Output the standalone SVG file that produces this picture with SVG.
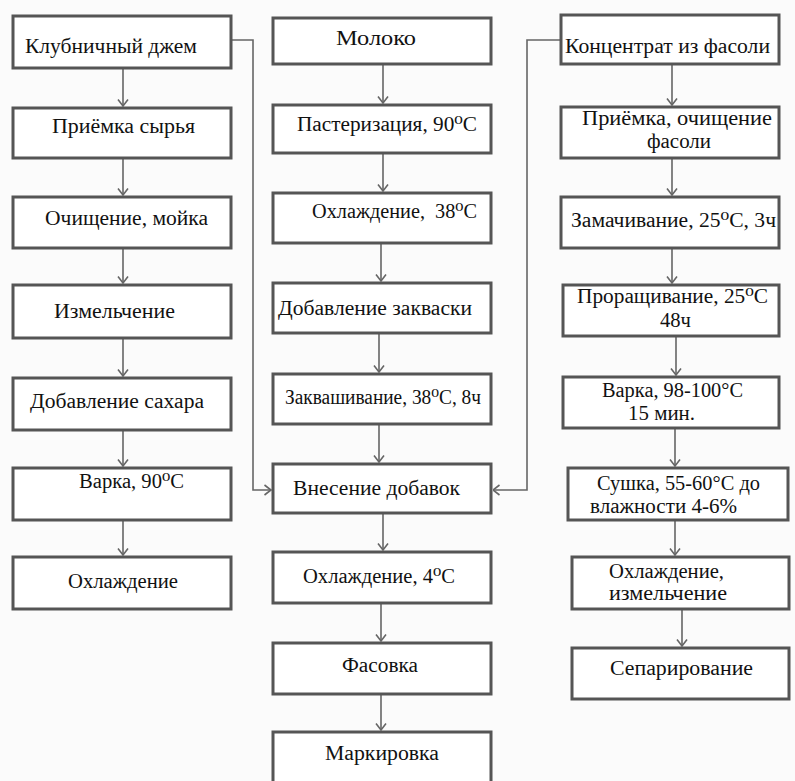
<svg xmlns="http://www.w3.org/2000/svg" width="795" height="781" viewBox="0 0 795 781">
<style>
.box{fill:#fff;stroke:#555;stroke-width:3}
.t{font-family:"Liberation Serif","Times New Roman","DejaVu Serif",serif;font-size:20px;fill:#111}
.c{fill:none;stroke:#666;stroke-width:1.6}
</style>
<defs>
<marker id="a" viewBox="0 0 8 12" refX="7.5" refY="6" markerWidth="8" markerHeight="12" markerUnits="userSpaceOnUse" orient="auto">
<path d="M1,1 L7.5,6 L1,11" fill="none" stroke="#666" stroke-width="1.6"/>
</marker>
</defs>
<rect width="795" height="781" fill="#fbfbfb"/>

<g id="connectors">
<path class="c" marker-end="url(#a)" d="M123,68 V106"/>
<path class="c" marker-end="url(#a)" d="M123,158 V195"/>
<path class="c" marker-end="url(#a)" d="M123,248 V283"/>
<path class="c" marker-end="url(#a)" d="M123,338 V376"/>
<path class="c" marker-end="url(#a)" d="M123,430 V466"/>
<path class="c" marker-end="url(#a)" d="M123,520 V555"/>
<path class="c" marker-end="url(#a)" d="M383,64 V103"/>
<path class="c" marker-end="url(#a)" d="M383,153 V191"/>
<path class="c" marker-end="url(#a)" d="M381,243 V281"/>
<path class="c" marker-end="url(#a)" d="M379,333 V372"/>
<path class="c" marker-end="url(#a)" d="M379,424 V462"/>
<path class="c" marker-end="url(#a)" d="M383,513 V550"/>
<path class="c" marker-end="url(#a)" d="M381,603 V641"/>
<path class="c" marker-end="url(#a)" d="M381,694 V730"/>
<path class="c" marker-end="url(#a)" d="M672,64 V105"/>
<path class="c" marker-end="url(#a)" d="M672,158 V195"/>
<path class="c" marker-end="url(#a)" d="M672,248 V283"/>
<path class="c" marker-end="url(#a)" d="M676,336 V375"/>
<path class="c" marker-end="url(#a)" d="M675,428 V466"/>
<path class="c" marker-end="url(#a)" d="M675,520 V555"/>
<path class="c" marker-end="url(#a)" d="M682,609 V646"/>
<path class="c" marker-end="url(#a)" d="M231,40 H253 V490 H271"/>
<path class="c" marker-end="url(#a)" d="M561,40 H527 V490 H493"/>
</g>

<g id="L1"><rect class="box" x="13" y="16" width="218" height="52"/><text class="t" x="25" y="53" textLength="172" lengthAdjust="spacingAndGlyphs">Клубничный джем</text></g>
<g id="L2"><rect class="box" x="13" y="108" width="218" height="50"/><text class="t" x="52" y="133" textLength="143" lengthAdjust="spacingAndGlyphs">Приёмка сырья</text></g>
<g id="L3"><rect class="box" x="13" y="197" width="218" height="51"/><text class="t" x="45" y="225" textLength="163" lengthAdjust="spacingAndGlyphs">Очищение, мойка</text></g>
<g id="L4"><rect class="box" x="13" y="285" width="218" height="53"/><text class="t" x="54" y="318" textLength="121" lengthAdjust="spacingAndGlyphs">Измельчение</text></g>
<g id="L5"><rect class="box" x="13" y="378" width="218" height="52"/><text class="t" x="30" y="408" textLength="174" lengthAdjust="spacingAndGlyphs">Добавление сахара</text></g>
<g id="L6"><rect class="box" x="13" y="468" width="218" height="52"/><text class="t" x="79" y="488" textLength="105" lengthAdjust="spacingAndGlyphs">Варка, 90⁰C</text></g>
<g id="L7"><rect class="box" x="13" y="557" width="218" height="52"/><text class="t" x="68" y="588" textLength="110" lengthAdjust="spacingAndGlyphs">Охлаждение</text></g>

<g id="M1"><rect class="box" x="273" y="18" width="218" height="46"/><text class="t" x="336" y="45" textLength="80" lengthAdjust="spacingAndGlyphs">Молоко</text></g>
<g id="M2"><rect class="box" x="273" y="105" width="218" height="48"/><text class="t" x="297" y="131" textLength="180" lengthAdjust="spacingAndGlyphs">Пастеризация, 90⁰C</text></g>
<g id="M3"><rect class="box" x="273" y="193" width="218" height="50"/><text class="t" x="312" y="218" textLength="165" lengthAdjust="spacingAndGlyphs" xml:space="preserve">Охлаждение,  38⁰C</text></g>
<g id="M4"><rect class="box" x="273" y="283" width="218" height="50"/><text class="t" x="278" y="315" textLength="194" lengthAdjust="spacingAndGlyphs">Добавление закваски</text></g>
<g id="M5"><rect class="box" x="273" y="374" width="218" height="50"/><text class="t" x="285" y="404" textLength="196" lengthAdjust="spacingAndGlyphs">Заквашивание, 38⁰C, 8ч</text></g>
<g id="M6"><rect class="box" x="273" y="464" width="218" height="49"/><text class="t" x="293" y="495" textLength="167" lengthAdjust="spacingAndGlyphs">Внесение добавок</text></g>
<g id="M7"><rect class="box" x="273" y="552" width="218" height="51"/><text class="t" x="303" y="583" textLength="152" lengthAdjust="spacingAndGlyphs">Охлаждение, 4⁰C</text></g>
<g id="M8"><rect class="box" x="273" y="643" width="218" height="51"/><text class="t" x="342" y="672" textLength="76" lengthAdjust="spacingAndGlyphs">Фасовка</text></g>
<g id="M9"><rect class="box" x="273" y="732" width="218" height="60"/><text class="t" x="325" y="760" textLength="114" lengthAdjust="spacingAndGlyphs">Маркировка</text></g>

<g id="R1"><rect class="box" x="561" y="15" width="218" height="49"/><text class="t" x="565" y="53" textLength="205" lengthAdjust="spacingAndGlyphs">Концентрат из фасоли</text></g>
<g id="R2"><rect class="box" x="561" y="107" width="218" height="51"/><text class="t" x="582" y="125" textLength="190" lengthAdjust="spacingAndGlyphs">Приёмка, очищение</text><text class="t" x="647" y="148" textLength="64" lengthAdjust="spacingAndGlyphs">фасоли</text></g>
<g id="R3"><rect class="box" x="561" y="197" width="218" height="51"/><text class="t" x="571" y="227" textLength="205" lengthAdjust="spacingAndGlyphs">Замачивание, 25⁰C, 3ч</text></g>
<g id="R4"><rect class="box" x="563" y="285" width="216" height="51"/><text class="t" x="577" y="303" textLength="191" lengthAdjust="spacingAndGlyphs">Проращивание, 25⁰C</text><text class="t" x="660" y="327" textLength="31" lengthAdjust="spacingAndGlyphs">48ч</text></g>
<g id="R5"><rect class="box" x="563" y="377" width="216" height="51"/><text class="t" x="602" y="397" textLength="141" lengthAdjust="spacingAndGlyphs">Варка, 98-100°C</text><text class="t" x="628" y="420" textLength="67" lengthAdjust="spacingAndGlyphs">15 мин.</text></g>
<g id="R6"><rect class="box" x="568" y="468" width="220" height="52"/><text class="t" x="597" y="490" textLength="163" lengthAdjust="spacingAndGlyphs">Сушка, 55-60°C до</text><text class="t" x="590" y="513" textLength="147" lengthAdjust="spacingAndGlyphs">влажности 4-6%</text></g>
<g id="R7"><rect class="box" x="572" y="557" width="217" height="52"/><text class="t" x="609" y="578" textLength="115" lengthAdjust="spacingAndGlyphs">Охлаждение,</text><text class="t" x="609" y="600" textLength="118" lengthAdjust="spacingAndGlyphs">измельчение</text></g>
<g id="R8"><rect class="box" x="572" y="648" width="217" height="51"/><text class="t" x="610" y="675" textLength="143" lengthAdjust="spacingAndGlyphs">Сепарирование</text></g>
</svg>
